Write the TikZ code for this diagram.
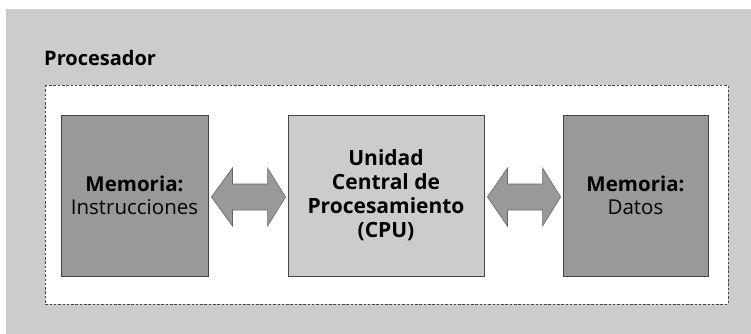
\documentclass[tikz,border=0pt]{standalone}
\usepackage{fontspec}
\setmainfont{Open Sans}
\usetikzlibrary{calc}
\definecolor{bggray}{HTML}{CCCCCC}
\definecolor{boxdark}{HTML}{999999}
\definecolor{boxlight}{HTML}{CCCCCC}
\definecolor{edge}{HTML}{444444}
\tikzset{
  membox/.style={draw=edge, line width=0.9pt, fill=boxdark, inner sep=0pt, align=center,
    minimum height=161pt, font=\fontsize{20.5}{23}\selectfont},
  cpubox/.style={membox, fill=boxlight, font=\bfseries\fontsize{21}{24}\selectfont},
  fatarr/.style={fill=boxdark, draw=gray!80!black, line width=0.6pt, line join=miter},
  frame/.style={draw=edge, line width=0.9pt, dash pattern=on 2.5pt off 1.8pt, fill=white}
}
\begin{document}
\begin{tikzpicture}[x=1pt,y=1pt]
\useasboundingbox (0,0) rectangle (751,-334);
\fill[white] (0,0) rectangle (751,-334);
\fill[bggray] (6,-9) rectangle (751,-334);
\node[anchor=west, font=\bfseries\fontsize{20}{24}\selectfont, inner sep=0pt] (title) at (44,-58) {Procesador};
\draw[frame] (45,-85) rectangle (728,-304);
\node[membox, minimum width=147pt] (L) at (134.5,-195.5) {\textbf{Memoria:}\\Instrucciones};
\node[cpubox, minimum width=196pt] (C) at (386,-195.5) {Unidad\\Central de\\Procesamiento\\(CPU)};
\node[membox, minimum width=145pt] (R) at (635.5,-195.5) {\textbf{Memoria:}\\Datos};
% double arrows
\path let \p1=($(L.east)+(3,-1.5)$), \p2=($(C.west)+(-2,-1.5)$) in
  [fatarr] (\x1,\y1) -- (\x1+21,\y1+29) -- (\x1+21,\y1+13) -- (\x2-18,\y1+13) -- (\x2-18,\y1+29)
  -- (\x2,\y1) -- (\x2-18,\y1-29) -- (\x2-18,\y1-13) -- (\x1+21,\y1-13) -- (\x1+21,\y1-29) -- cycle;
\path let \p1=($(C.east)+(3,-1.5)$), \p2=($(R.west)+(-2,-1.5)$) in
  [fatarr] (\x1,\y1) -- (\x1+20,\y1+29) -- (\x1+20,\y1+13) -- (\x2-18,\y1+13) -- (\x2-18,\y1+29)
  -- (\x2,\y1) -- (\x2-18,\y1-29) -- (\x2-18,\y1-13) -- (\x1+20,\y1-13) -- (\x1+20,\y1-29) -- cycle;
\end{tikzpicture}
\end{document}
